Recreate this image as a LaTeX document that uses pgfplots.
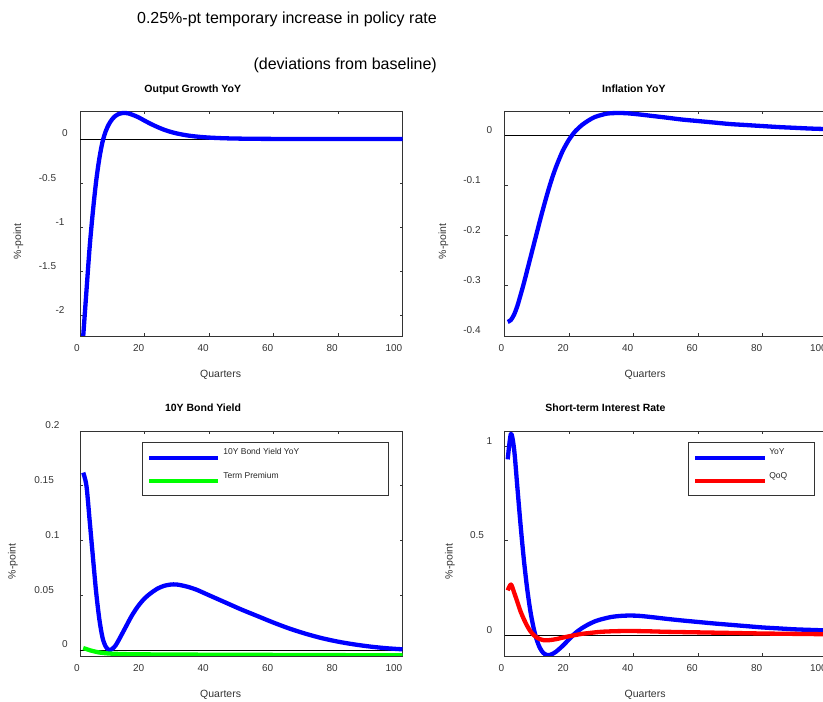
\documentclass[border=0pt]{standalone}
\usepackage{fontspec}
\setmainfont{Liberation Sans}
\usepackage{pgfplots}
\pgfplotsset{compat=1.18}
\newcommand{\dl}[1]{#1\phantom{#1}}
\begin{document}
\begin{tikzpicture}
\pgfplotsset{
  panel/.style={
    scale only axis, width=322.5pt, height=225pt, anchor=south west,
    xmin=0, xmax=100, xtick={0,20,40,60,80,100}, xticklabels={0,20,40,60,80,100},
    axis line style={draw=black!80, line width=0.9pt},
    tick style={black!80, line width=0.7pt},
    tick align=inside, major tick length=3pt,
    xticklabel style={anchor=base east, inner sep=0pt, yshift=-15.9pt},
    yticklabel style={anchor=east, inner sep=0pt, xshift=-6.5pt, yshift=5.5pt},
    tick label style={font=\fontsize{10}{12}\selectfont, text=black!80},
    legend cell align=left,
  },
  datline/.style={line width=4.3pt, line join=round, smooth, tension=0.5},
  zeroline/.style={black, line width=0.8pt, forget plot},
  mylegend/.style={
    legend style={draw=black!80, line width=0.8pt, fill=white,
      inner xsep=4.6pt, inner ysep=0pt, row sep=0pt, column sep=3.2pt,
      cells={anchor=center},
      nodes={inner sep=0pt, text depth=, font=\fontsize{8.5}{10}\selectfont, text=black!85}},
  },
  legBlueA/.style={legend image code/.code={\draw[blue, line width=4pt] (0pt,-3.5pt) -- (68.7pt,-3.5pt);}},
  legGreenA/.style={legend image code/.code={\draw[green, line width=4pt] (0pt,0pt) -- (68.7pt,0pt); \path (0pt,0pt) (0pt,-0.4pt);}},
  legBlueB/.style={legend image code/.code={\draw[blue, line width=4pt] (0pt,-3.5pt) -- (69.3pt,-3.5pt);}},
  legRedB/.style={legend image code/.code={\draw[red, line width=4pt] (0pt,0pt) -- (69.3pt,0pt); \path (0pt,0pt) (0pt,-0.4pt);}},
}
\tikzset{ttl/.style={anchor=base east, inner sep=0pt, font=\bfseries\fontsize{10.5}{12}\selectfont},
  xl/.style={anchor=base east, inner sep=0pt, font=\fontsize{10.5}{12}\selectfont, text=black!80},
  yl/.style={rotate=90, anchor=east, inner sep=0pt, font=\fontsize{10.5}{12}\selectfont, text=black!80}}

% Panel 1
\begin{axis}[panel, at={(80pt,366pt)}, ymin=-2.23, ymax=0.317,
  ytick={-2,-1.5,-1,-0.5,0}, yticklabels={\dl{-2},\dl{-1.5},\dl{-1},\dl{-0.5},\dl{0}}]
\addplot[zeroline] coordinates {(0,0) (100,0)};
\addplot[blue, datline] coordinates {(1,-2.23)(2,-1.72)(3,-1.22)(4,-0.82)(5,-0.48)(6,-0.22)(7,-0.03)(8,0.09)(9,0.17)(10,0.225)(11,0.262)(12,0.283)(13,0.293)(14,0.295)(15,0.29)(16,0.278)(18,0.248)(20,0.208)(22,0.17)(24,0.136)(26,0.106)(28,0.082)(30,0.063)(33,0.042)(36,0.028)(40,0.016)(45,0.008)(50,0.004)(55,0.002)(60,0.001)(70,0)(100,0)};
\end{axis}

% Panel 2
\begin{axis}[panel, at={(504.5pt,366pt)}, ymin=-0.4, ymax=0.048,
  ytick={-0.4,-0.3,-0.2,-0.1,0}, yticklabels={\dl{-0.4},\dl{-0.3},\dl{-0.2},\dl{-0.1},\dl{0}}]
\addplot[zeroline] coordinates {(0,0) (100,0)};
\addplot[blue, datline] coordinates {(1,-0.372)(2,-0.368)(3,-0.357)(4,-0.34)(5,-0.318)(6,-0.295)(7,-0.27)(8,-0.245)(9,-0.22)(10,-0.195)(11,-0.17)(12,-0.146)(13,-0.123)(14,-0.101)(15,-0.081)(16,-0.063)(17,-0.047)(18,-0.032)(19,-0.02)(20,-0.009)(21,0)(22,0.008)(24,0.02)(26,0.029)(28,0.036)(30,0.04)(32,0.043)(35,0.044)(38,0.0435)(42,0.041)(46,0.038)(50,0.035)(55,0.031)(60,0.028)(65,0.025)(70,0.022)(75,0.02)(80,0.018)(85,0.016)(90,0.0145)(95,0.013)(100,0.012)};
\end{axis}

% Panel 3
\begin{axis}[panel, mylegend, at={(80pt,46pt)}, ymin=-0.0055, ymax=0.2,
  ytick={0,0.05,0.1,0.15,0.2}, yticklabels={\dl{0},\dl{0.05},\dl{0.1},\dl{0.15},\dl{0.2}},
  legend style={at={(0.1932,0.951)}, anchor=north west}]
\addplot[zeroline] coordinates {(0,0) (100,0)};
\addplot[blue, datline, legBlueA] coordinates {(1,0.162)(2,0.15)(3,0.118)(4,0.085)(5,0.053)(6,0.028)(7,0.011)(8,0.003)(9,0.0)(10,0.001)(11,0.004)(12,0.009)(14,0.02)(16,0.031)(18,0.04)(20,0.047)(22,0.052)(24,0.056)(26,0.0585)(28,0.0597)(30,0.0598)(33,0.058)(36,0.0552)(40,0.05)(45,0.0435)(50,0.037)(55,0.031)(60,0.025)(65,0.0195)(70,0.0148)(75,0.0108)(80,0.0076)(85,0.0051)(90,0.0031)(95,0.0016)(100,0.0006)};
\addlegendentry{\makebox[160.9pt][l]{\rule[-12.3pt]{0pt}{24pt}10Y Bond Yield YoY}}
\addplot[green, datline, legGreenA] coordinates {(1,0.0018)(2,0.0008)(3,-0.0002)(4,-0.001)(5,-0.0017)(6,-0.0023)(7,-0.0027)(8,-0.003)(10,-0.0034)(13,-0.0037)(16,-0.0039)(20,-0.004)(30,-0.0042)(40,-0.0043)(50,-0.0044)(60,-0.0045)(70,-0.0046)(80,-0.0047)(90,-0.0048)(100,-0.0048)};
\addlegendentry{\makebox[160.9pt][l]{\rule[-17.3pt]{0pt}{29pt}Term Premium}}
\end{axis}

% Panel 4
\begin{axis}[panel, mylegend, at={(504.5pt,46pt)}, ymin=-0.11, ymax=1.08,
  ytick={0,0.5,1}, yticklabels={\dl{0},\dl{0.5},\dl{1}},
  legend style={at={(0.5699,0.951)}, anchor=north west, column sep=2.6pt}]
\addplot[zeroline] coordinates {(0,0) (100,0)};
\addplot[blue, datline, legBlueB] coordinates {(1,0.93)(2,1.065)(3,0.98)(4,0.78)(5,0.58)(6,0.4)(7,0.25)(8,0.13)(9,0.04)(10,-0.025)(11,-0.068)(12,-0.093)(13,-0.104)(14,-0.105)(15,-0.098)(16,-0.087)(18,-0.057)(20,-0.022)(22,0.012)(24,0.037)(26,0.057)(28,0.073)(30,0.084)(33,0.096)(36,0.102)(39,0.104)(42,0.102)(46,0.095)(50,0.087)(55,0.078)(60,0.07)(65,0.062)(70,0.055)(75,0.048)(80,0.041)(85,0.036)(90,0.031)(95,0.028)(100,0.025)};
\addlegendentry{\makebox[40.1pt][l]{\rule[-12.3pt]{0pt}{24pt}YoY}}
\addplot[red, datline, legRedB] coordinates {(1,0.237)(2,0.268)(3,0.225)(4,0.175)(5,0.125)(6,0.085)(7,0.05)(8,0.022)(9,0.002)(10,-0.012)(11,-0.021)(12,-0.026)(13,-0.027)(14,-0.026)(16,-0.021)(18,-0.013)(20,-0.006)(22,0.001)(24,0.007)(27,0.013)(30,0.018)(34,0.021)(38,0.022)(42,0.0215)(46,0.02)(50,0.018)(60,0.015)(70,0.012)(80,0.009)(90,0.007)(100,0.005)};
\addlegendentry{\makebox[40.1pt][l]{\rule[-17.3pt]{0pt}{29pt}QoQ}}
\end{axis}

% Titles and labels
\node[anchor=base east, inner sep=0pt, font=\fontsize{16}{19}\selectfont] at (437pt,678.5pt) {0.25\%-pt temporary increase in policy rate};
\node[anchor=base east, inner sep=0pt, font=\fontsize{16}{19}\selectfont] at (437pt,632.5pt) {(deviations from baseline)};
\node[ttl] at (241.25pt,609pt) {Output Growth YoY};
\node[ttl] at (665.75pt,609pt) {Inflation YoY};
\node[ttl] at (241.25pt,290.3pt) {10Y Bond Yield};
\node[ttl] at (665.75pt,290.3pt) {Short-term Interest Rate};
\node[xl] at (241.25pt,324.3pt) {Quarters};
\node[xl] at (665.75pt,324.3pt) {Quarters};
\node[xl] at (241.25pt,4.3pt) {Quarters};
\node[xl] at (665.75pt,4.3pt) {Quarters};
\node[yl] at (18.3pt,478.5pt) {\%-point};
\node[yl] at (443.3pt,478.5pt) {\%-point};
\node[yl] at (13pt,158.5pt) {\%-point};
\node[yl] at (450pt,158.5pt) {\%-point};

\pgfresetboundingbox
\useasboundingbox (0pt,0pt) rectangle (823pt,702pt);
\end{tikzpicture}
\end{document}
